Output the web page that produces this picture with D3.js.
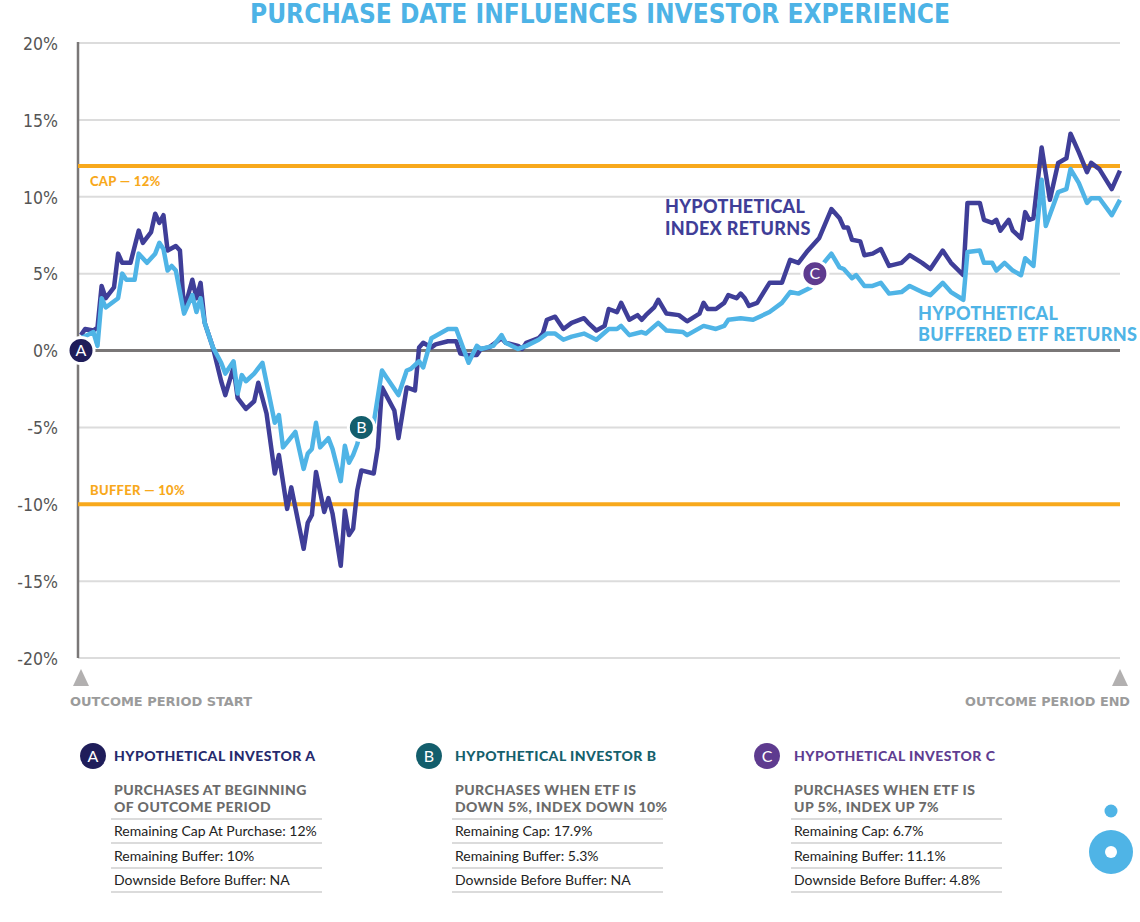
<!DOCTYPE html>
<html><head><meta charset="utf-8">
<script src="https://cdn.jsdelivr.net/npm/d3@7"></script>
<style>body{margin:0;background:#fff} svg{display:block}</style>
</head><body>
<svg id="chart" width="1140" height="922"></svg>
<script>
// ---------- DATA ----------
const chartTitle = "PURCHASE DATE INFLUENCES INVESTOR EXPERIENCE";
const yTicks = [20, 15, 10, 5, 0, -5, -10, -15, -20];
const periodDays = 252;

const indexDays = [0,1,3,4,5,6,8,9,10,12,14,15,17,18,19,20,21,23,24,25,27,28,29,30,32,34,35,37,38,40,42,43,45,47,48,50,51,54,55,56,57,59,60,61,63,64,65,66,67,68,71,72,73,76,77,79,81,82,83,85,86,89,91,92,94,96,97,99,102,103,106,107,108,111,112,113,115,117,119,122,123,125,127,128,130,131,133,135,136,137,139,140,142,145,147,150,151,152,154,156,157,159,160,161,162,164,167,170,172,174,176,179,182,184,185,186,187,189,190,192,194,196,199,201,204,206,209,211,214,215,218,219,221,222,223,225,226,228,229,230,231,233,235,237,239,240,242,244,245,247,250,252];
const indexValues = [1.0,1.4,1.3,1.5,4.2,3.4,4.1,6.3,5.7,5.7,7.8,7.0,7.7,8.9,8.3,8.8,6.5,6.8,6.5,2.6,4.6,3.4,4.4,1.8,0.2,-2.0,-2.9,-1.1,-3.1,-3.8,-3.3,-2.1,-4.1,-8.0,-6.8,-10.3,-8.9,-12.9,-11.2,-10.7,-7.9,-10.5,-9.6,-10.6,-14.0,-10.4,-12.0,-11.6,-9.1,-7.8,-8.0,-6.3,-2.4,-3.9,-5.7,-2.4,-2.6,0.2,0.5,0.2,0.4,0.6,0.6,-0.2,-0.3,-0.3,0.1,0.2,0.8,0.5,0.3,0.1,0.5,0.8,1.1,2.0,2.2,1.4,1.8,2.1,1.8,1.3,1.6,2.7,2.5,3.1,2.0,2.3,2.0,2.3,2.8,3.3,2.4,2.3,1.9,2.4,3.1,2.7,2.7,3.1,3.6,3.4,3.7,3.4,2.9,3.1,4.4,4.4,5.9,5.7,6.4,7.3,9.2,8.6,8.0,8.0,7.2,7.1,6.2,6.3,6.6,5.5,5.7,6.2,5.7,5.3,6.5,5.7,4.9,9.6,9.6,8.5,8.3,8.5,7.8,8.5,7.8,7.3,9.0,8.5,8.6,13.2,9.8,12.2,12.5,14.1,12.9,11.6,12.2,11.8,10.5,11.7];

const etfDays = [0,3,4,5,6,9,10,11,13,14,16,18,19,20,21,22,23,25,27,28,29,30,32,34,35,37,38,39,40,42,44,47,48,49,52,54,55,56,57,58,60,61,63,64,65,66,67,68,71,73,74,77,79,80,82,83,85,89,91,94,96,97,100,102,103,106,108,111,113,115,117,119,122,125,128,130,131,133,136,137,140,142,146,147,151,154,156,157,160,163,167,170,172,174,177,178,182,184,185,187,188,190,192,194,196,199,201,204,206,209,211,214,215,218,219,221,222,224,226,228,229,231,233,234,237,239,240,242,244,245,247,250,252];
const etfValues = [0.8,1.2,0.3,3.4,2.8,3.4,5.0,4.6,4.6,6.3,5.7,6.3,7.0,6.6,5.2,5.5,5.2,2.4,3.6,2.5,3.4,1.8,0.2,-0.8,-1.5,-0.7,-2.8,-1.6,-2.0,-1.5,-0.8,-4.7,-4.2,-6.3,-5.3,-7.7,-6.7,-6.4,-4.7,-6.3,-5.7,-6.4,-8.5,-6.2,-7.3,-6.8,-6.1,-5.0,-4.7,-1.3,-1.7,-2.9,-1.3,-1.2,-0.7,-1.1,0.8,1.4,1.4,-0.8,0.3,0.1,0.3,1.0,0.5,0.1,0.3,0.7,1.1,1.1,0.7,0.9,1.1,0.7,1.4,1.4,1.6,1.0,1.2,1.1,1.8,1.3,1.2,1.0,1.6,1.4,1.6,2.0,2.1,2.0,2.5,3.1,3.8,3.7,4.1,5.0,6.3,5.4,5.3,4.7,4.9,4.2,4.2,4.4,3.7,3.8,4.2,3.8,3.6,4.4,3.8,3.3,6.4,6.5,5.7,5.7,5.2,5.7,5.2,4.9,6.0,5.5,11.1,8.1,10.3,10.5,11.8,10.9,9.6,9.9,9.9,8.8,9.8];

const capLevel = 12;
const bufferLevel = -10;
const capLabel = "CAP — 12%";
const bufferLabel = "BUFFER — 10%";
const indexLabel = ["HYPOTHETICAL", "INDEX RETURNS"];
const etfLabel = ["HYPOTHETICAL", "BUFFERED ETF RETURNS"];

const markerLabels = ["A", "B", "C"];
const markerDays = [0, 68, 178];
const markerValues = [0, -5, 5];
const markerColors = ["#1f1d5a", "#135e6c", "#5e3b8f"];

const investorTitles = ["HYPOTHETICAL INVESTOR A", "HYPOTHETICAL INVESTOR B", "HYPOTHETICAL INVESTOR C"];
const investorTitleColors = ["#262a6d", "#14606c", "#5f3d91"];
const investorSubtitles = [
  ["PURCHASES AT BEGINNING", "OF OUTCOME PERIOD"],
  ["PURCHASES WHEN ETF IS", "DOWN 5%, INDEX DOWN 10%"],
  ["PURCHASES WHEN ETF IS", "UP 5%, INDEX UP 7%"]
];
const investorRows = [
  ["Remaining Cap At Purchase: 12%", "Remaining Buffer: 10%", "Downside Before Buffer: NA"],
  ["Remaining Cap: 17.9%", "Remaining Buffer: 5.3%", "Downside Before Buffer: NA"],
  ["Remaining Cap: 6.7%", "Remaining Buffer: 11.1%", "Downside Before Buffer: 4.8%"]
];
const periodLabels = ["OUTCOME PERIOD START", "OUTCOME PERIOD END"];

// ---------- DRAW ----------
const svg = d3.select("#chart");
const W = 1140;
const left = 78, right = 1120;
const x = d3.scaleLinear().domain([0, periodDays]).range([81, 1120]);
const y = d3.scaleLinear().domain([-20, 20]).range([658, 43]);

const COL_INDEX = "#3f3e98", COL_ETF = "#4fb4e6", COL_ORANGE = "#f8a91c";

svg.append("rect").attr("width", W).attr("height", 922).attr("fill", "#fff");

// title
svg.append("text").attr("x", 600).attr("y", 23).attr("text-anchor", "middle")
  .attr("font-family", "'DejaVu Sans Condensed', 'DejaVu Sans', sans-serif").attr("font-weight", "bold")
  .attr("font-size", 26).attr("fill", "#4db3e6")
  .attr("textLength", 700).attr("lengthAdjust", "spacingAndGlyphs")
  .text(chartTitle);

// gridlines
svg.append("g").selectAll("line").data(yTicks.filter(d => d !== 0))
  .join("line").attr("x1", left).attr("x2", right)
  .attr("y1", d => y(d)).attr("y2", d => y(d))
  .attr("stroke", "#dcdcdc").attr("stroke-width", 2);

// y axis
const yAxis = svg.append("g").attr("transform", `translate(${left},0)`)
  .call(d3.axisLeft(y).tickValues(yTicks).tickFormat(d => d + "%").tickSize(0).tickPadding(20));
yAxis.select(".domain").remove();
yAxis.selectAll("text").attr("font-family", "'DejaVu Sans Condensed', 'DejaVu Sans', sans-serif")
  .attr("font-size", 17.5).attr("fill", "#555").attr("dy", "0.36em");
svg.append("line").attr("x1", left).attr("x2", left).attr("y1", y(20) - 1).attr("y2", y(-20))
  .attr("stroke", "#7a7777").attr("stroke-width", 2.5);

// zero line
svg.append("line").attr("x1", left).attr("x2", right).attr("y1", y(0)).attr("y2", y(0))
  .attr("stroke", "#7a7777").attr("stroke-width", 3);

// cap / buffer
[capLevel, bufferLevel].forEach(v => {
  svg.append("line").attr("x1", left).attr("x2", right).attr("y1", y(v)).attr("y2", y(v))
    .attr("stroke", COL_ORANGE).attr("stroke-width", 4);
});
const smallBold = "Lato, 'Open Sans', sans-serif";
svg.append("text").attr("x", 90).attr("y", y(capLevel) + 20).attr("font-family", smallBold)
  .attr("font-weight", 900).attr("font-size", 13).attr("letter-spacing", 0.3).attr("fill", COL_ORANGE).text(capLabel);
svg.append("text").attr("x", 90).attr("y", y(bufferLevel) - 9).attr("font-family", smallBold)
  .attr("font-weight", 900).attr("font-size", 13).attr("letter-spacing", 0.3).attr("fill", COL_ORANGE).text(bufferLabel);

// lines
const line = d3.line().x(d => x(d[0])).y(d => y(d[1]));
const indexData = indexDays.map((d, i) => [d, indexValues[i]]);
const etfData = etfDays.map((d, i) => [d, etfValues[i]]);
svg.append("path").datum(indexData).attr("d", line).attr("fill", "none")
  .attr("stroke", COL_INDEX).attr("stroke-width", 4.5).attr("stroke-linejoin", "round");
svg.append("path").datum(etfData).attr("d", line).attr("fill", "none")
  .attr("stroke", COL_ETF).attr("stroke-width", 4.5).attr("stroke-linejoin", "round");

// series labels
const seriesFont = "Lato, sans-serif";
indexLabel.forEach((t, i) => svg.append("text").attr("x", 665).attr("y", 213 + i * 22)
  .attr("font-family", seriesFont).attr("font-weight", 900).attr("font-size", 18).attr("letter-spacing", 0.3)
  .attr("fill", COL_INDEX).text(t));
etfLabel.forEach((t, i) => svg.append("text").attr("x", 918).attr("y", 320 + i * 21)
  .attr("font-family", seriesFont).attr("font-weight", 900).attr("font-size", 18).attr("letter-spacing", 0.3)
  .attr("fill", COL_ETF).text(t));

// markers
const mk = svg.append("g").selectAll("g").data(markerLabels).join("g")
  .attr("transform", (d, i) => `translate(${x(markerDays[i])},${y(markerValues[i])})`);
mk.append("circle").attr("r", 13).attr("fill", (d, i) => markerColors[i])
  .attr("stroke", "#fff").attr("stroke-width", 3);
mk.append("text").attr("text-anchor", "middle").attr("dy", "0.36em")
  .attr("font-family", "Lato, sans-serif").attr("font-size", 16).attr("fill", "#fff").text(d => d);

// period triangles and labels
[x(0), x(periodDays)].forEach(cx => {
  svg.append("path").attr("d", `M${cx - 8},686 L${cx},669 L${cx + 8},686 Z`).attr("fill", "#b2b0b0");
});
svg.append("text").attr("x", 70).attr("y", 706).attr("font-family", "'DejaVu Sans Condensed', sans-serif")
  .attr("font-weight", "bold").attr("font-size", 13).attr("fill", "#9b9b9b")
  .attr("textLength", 182).attr("lengthAdjust", "spacingAndGlyphs").text(periodLabels[0]);
svg.append("text").attr("x", 1130).attr("y", 706).attr("text-anchor", "end").attr("font-family", "'DejaVu Sans Condensed', sans-serif")
  .attr("font-weight", "bold").attr("font-size", 13).attr("fill", "#9b9b9b")
  .attr("textLength", 165).attr("lengthAdjust", "spacingAndGlyphs").text(periodLabels[1]);

// investor panels
const circleX = [93, 429, 767];
const textX = [114, 455, 794];
investorTitles.forEach((t, i) => {
  const g = svg.append("g");
  g.append("circle").attr("cx", circleX[i]).attr("cy", 756).attr("r", 13).attr("fill", markerColors[i]);
  g.append("text").attr("x", circleX[i]).attr("y", 756).attr("dy", "0.36em").attr("text-anchor", "middle")
    .attr("font-family", "Lato, sans-serif").attr("font-size", 16).attr("fill", "#fff").text(markerLabels[i]);
  g.append("text").attr("x", textX[i]).attr("y", 761).attr("font-family", "Lato, sans-serif")
    .attr("font-weight", 900).attr("font-size", 14).attr("letter-spacing", 0.45).attr("fill", investorTitleColors[i]).text(t);
  investorSubtitles[i].forEach((s, j) => g.append("text").attr("x", textX[i]).attr("y", 795 + j * 17)
    .attr("font-family", "Lato, sans-serif").attr("font-weight", 900).attr("font-size", 14).attr("letter-spacing", 0.45)
    .attr("fill", "#6b6b6b").text(s));
  [819, 843, 868, 892].forEach(yy => g.append("line").attr("x1", textX[i] - 3).attr("x2", textX[i] + 208)
    .attr("y1", yy).attr("y2", yy).attr("stroke", "#cfcfcf").attr("stroke-width", 1.5));
  investorRows[i].forEach((r, j) => g.append("text").attr("x", textX[i]).attr("y", 836 + j * 24.5)
    .attr("font-family", "Lato, sans-serif").attr("font-size", 14).attr("fill", "#222").text(r));
});

// logo
svg.append("circle").attr("cx", 1111).attr("cy", 811).attr("r", 6.5).attr("fill", COL_ETF);
svg.append("circle").attr("cx", 1111).attr("cy", 852).attr("r", 22).attr("fill", COL_ETF);
svg.append("circle").attr("cx", 1111).attr("cy", 852).attr("r", 6).attr("fill", "#fff");
</script>
</body></html>
